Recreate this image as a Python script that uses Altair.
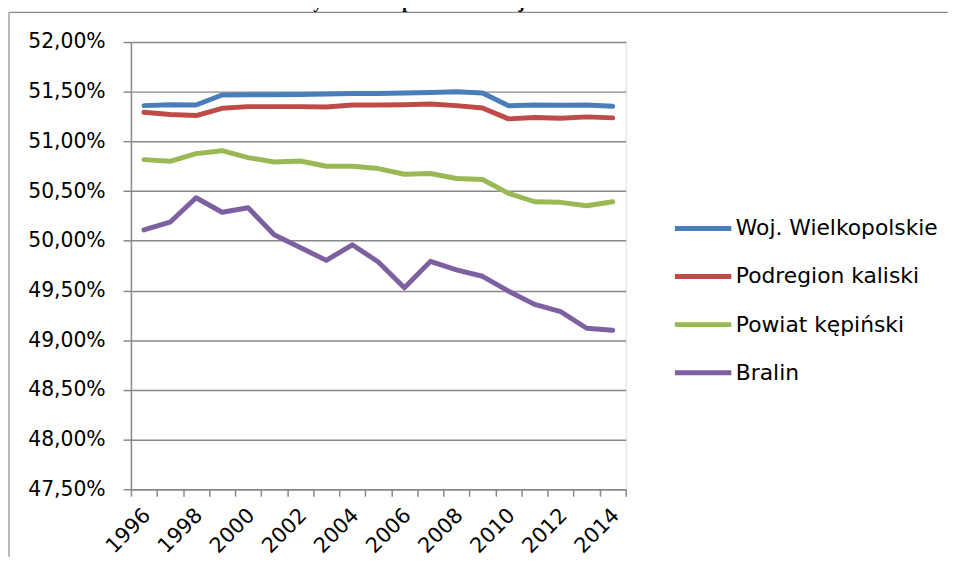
import altair as alt
import pandas as pd

years = list(range(1996, 2015))
series_names = ["Woj. Wielkopolskie", "Podregion kaliski", "Powiat kępiński", "Bralin"]
colors = ["#4a7ebb", "#be4b48", "#98b954", "#7d60a0"]

woj = [51.36, 51.37, 51.367, 51.467, 51.47, 51.47, 51.473, 51.477, 51.483, 51.483,
       51.487, 51.493, 51.50, 51.487, 51.36, 51.367, 51.363, 51.367, 51.353]
podregion = [51.293, 51.27, 51.26, 51.333, 51.35, 51.35, 51.35, 51.347, 51.367, 51.367,
             51.37, 51.377, 51.36, 51.337, 51.227, 51.24, 51.233, 51.247, 51.237]
powiat = [50.817, 50.80, 50.877, 50.907, 50.837, 50.793, 50.803, 50.75, 50.75, 50.727,
          50.67, 50.677, 50.627, 50.617, 50.477, 50.393, 50.387, 50.353, 50.393]
bralin = [50.11, 50.187, 50.433, 50.287, 50.333, 50.06, 49.933, 49.803, 49.96, 49.787,
          49.527, 49.793, 49.707, 49.643, 49.493, 49.36, 49.287, 49.12, 49.10]

y_ticks = [47.5, 48.0, 48.5, 49.0, 49.5, 50.0, 50.5, 51.0, 51.5, 52.0]
title_text = "Wykres 3 Stopień feminizacji w latach 1996-2014"

rows = []
for name, vals in zip(series_names, [woj, podregion, powiat, bralin]):
    for yr, v in zip(years, vals):
        rows.append({"year": yr, "value": v, "series": name})
df = pd.DataFrame(rows)

FONT = "DejaVu Sans"
GRID = "#888888"
BORDER = "#8c8c8c"

lines = alt.Chart(df).mark_line(strokeWidth=5, strokeCap="round", strokeJoin="round").encode(
    x=alt.X(
        "year:O",
        bandPosition=0.5,
        scale=alt.Scale(type="band", paddingInner=0, paddingOuter=0),
        axis=alt.Axis(
            title=None,
            tickBand="extent",
            grid=False,
            labelExpr="datum.value % 2 == 0 ? datum.label : ''",
            labelAngle=315,
            labelAlign="right",
            labelBaseline="middle",
            labelPadding=16,
            labelOffset=3,
            labelFont=FONT,
            labelFontSize=21,
            labelColor="#000000",
            tickSize=7,
            tickColor=GRID,
            tickWidth=1.5,
            domainColor=GRID,
            domainWidth=1.5,
            labelOverlap=False,
        ),
    ),
    y=alt.Y(
        "value:Q",
        scale=alt.Scale(domain=[47.5, 52.0], nice=False, zero=False),
        axis=alt.Axis(
            title=None,
            values=y_ticks,
            labelExpr="replace(format(datum.value, '.2f'), '.', ',') + '%'",
            labelFont=FONT,
            labelFontSize=20.5,
            labelColor="#000000",
            labelPadding=18,
            tickSize=8,
            tickColor=GRID,
            tickWidth=1.5,
            domainColor=GRID,
            domainWidth=1.5,
            gridColor=GRID,
            gridWidth=1.5,
            labelOverlap=False,
        ),
    ),
    color=alt.Color(
        "series:N",
        scale=alt.Scale(domain=series_names, range=colors),
        sort=series_names,
        legend=alt.Legend(
            title=None,
            orient="none",
            legendX=560,
            legendY=171,
            symbolType="M-2,0H2",
            symbolSize=810,
            symbolStrokeWidth=5,
            labelOffset=16,
            rowPadding=20.5,
            padding=0,
            labelFont=FONT,
            labelFontSize=22,
            labelColor="#000000",
            labelLimit=400,
        ),
    ),
)

frame = alt.Chart(alt.Data(values=[{}]))
border_top = frame.mark_rule(stroke=BORDER, strokeWidth=1.2).encode(
    x=alt.value(-123), x2=alt.value(860), y=alt.value(-30)
)
border_left = frame.mark_rule(stroke=BORDER, strokeWidth=1.2).encode(
    x=alt.value(-123), y=alt.value(-30), y2=alt.value(560)
)

title = alt.Chart(alt.Data(values=[{"t": title_text}])).mark_text(
    font="Liberation Serif", fontSize=19, fontWeight="bold", align="center", baseline="alphabetic"
).encode(
    text="t:N", x=alt.value(364), y=alt.value(-34)
)

chart = alt.layer(border_top, border_left, title, lines).properties(
    width=499,
    height=451,
    autosize=alt.AutoSizeParams(type="none"),
    padding={"left": 124, "top": 32, "right": 325, "bottom": 66},
).configure_view(stroke=None).configure(background="white")

chart.save("out.html", embed_options={"renderer": "svg", "actions": False})
